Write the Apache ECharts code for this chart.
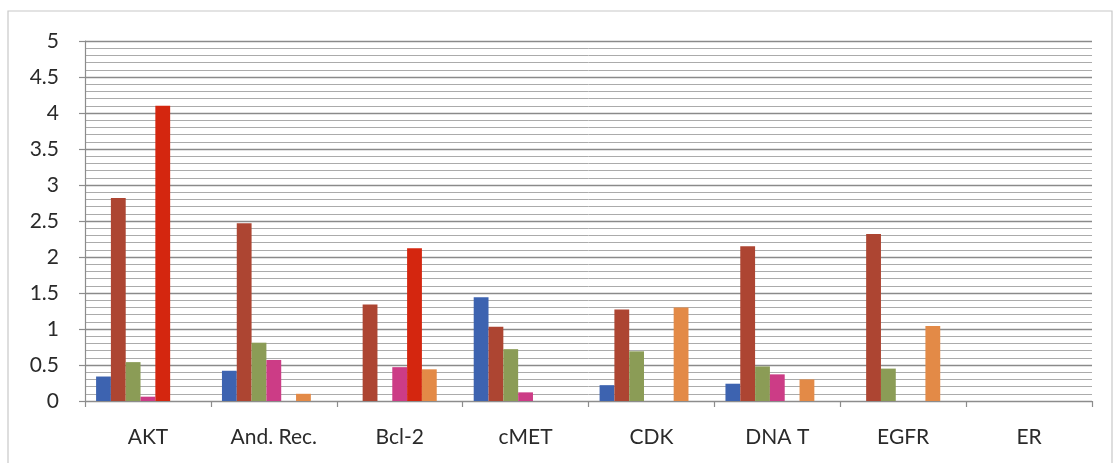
<!DOCTYPE html>
<html>
<head>
<meta charset="utf-8">
<script src="https://cdn.jsdelivr.net/npm/echarts@6/dist/echarts.min.js"></script>
<style>
  html, body { margin: 0; padding: 0; background: #ffffff; }
  #chart { width: 1119px; height: 463px; }
</style>
</head>
<body>
<div id="chart"></div>
<script>
// Target categories along the x axis
const categories = ['AKT', 'And. Rec.', 'Bcl-2', 'cMET', 'CDK', 'DNA T', 'EGFR', 'ER'];

// One array per series (null = no bar)
const seriesBlue   = [0.34, 0.42, null, 1.44, 0.22, 0.24, null, null];
const seriesBrown  = [2.82, 2.47, 1.34, 1.03, 1.27, 2.15, 2.32, null];
const seriesGreen  = [0.54, 0.81, null, 0.72, 0.69, 0.48, 0.45, null];
const seriesPink   = [0.06, 0.57, 0.47, 0.12, null, 0.37, null, null];
const seriesRed    = [4.10, null, 2.12, null, null, null, null, null];
const seriesOrange = [null, 0.10, 0.44, null, 1.30, 0.30, 1.04, null];
const seriesEmpty  = [null, null, null, null, null, null, null, null];

// Y axis range and steps
const yMin = 0;
const yMax = 5;
const yStep = 0.5;

const seriesList = [
  { name: 'S1', data: seriesBlue,   color: '#3d63b0' },
  { name: 'S2', data: seriesBrown,  color: '#ad4532' },
  { name: 'S3', data: seriesGreen,  color: '#8b9c56' },
  { name: 'S4', data: seriesPink,   color: '#cc3c86' },
  { name: 'S5', data: seriesRed,    color: '#d4260f' },
  { name: 'S6', data: seriesOrange, color: '#e38a47' },
  { name: 'S7', data: seriesEmpty,  color: '#7f7f7f' }
];

const chart = echarts.init(document.getElementById('chart'), null, { renderer: 'canvas' });

chart.setOption({
  backgroundColor: '#ffffff',
  animation: false,
  textStyle: { fontFamily: 'Lato, "Liberation Sans", sans-serif' },
  graphic: [{
    type: 'rect',
    shape: { x: 8, y: 11, width: 1104, height: 470 },
    style: { fill: 'none', stroke: '#c8c8c8', lineWidth: 1.2 },
    silent: true
  }],
  grid: { left: 85, right: 27, top: 41, bottom: 62 },
  xAxis: {
    type: 'category',
    data: categories,
    axisLine: { show: true, lineStyle: { color: '#8c8c8c', width: 1.2 } },
    axisTick: { show: true, length: 6, lineStyle: { color: '#8c8c8c', width: 1.2 } },
    axisLabel: { color: '#2a2a2a', fontSize: 21, margin: 26 },
    splitLine: { show: false }
  },
  yAxis: {
    type: 'value',
    min: yMin,
    max: yMax,
    interval: yStep,
    axisLine: { show: true, lineStyle: { color: '#8c8c8c', width: 1.2 } },
    axisTick: { show: true, length: 6, lineStyle: { color: '#8c8c8c', width: 1.2 } },
    axisLabel: { color: '#2a2a2a', fontSize: 21, margin: 26 },
    splitLine: { show: true, lineStyle: { color: '#8a8a8a', width: 1.4 } },
    minorTick: { show: false, splitNumber: 5 },
    minorSplitLine: { show: true, lineStyle: { color: '#ababab', width: 1 } }
  },
  series: seriesList.map(s => ({
    name: s.name,
    type: 'bar',
    data: s.data,
    barGap: '0%',
    barCategoryGap: '17.6%',
    itemStyle: { color: s.color }
  }))
});
</script>
</body>
</html>
